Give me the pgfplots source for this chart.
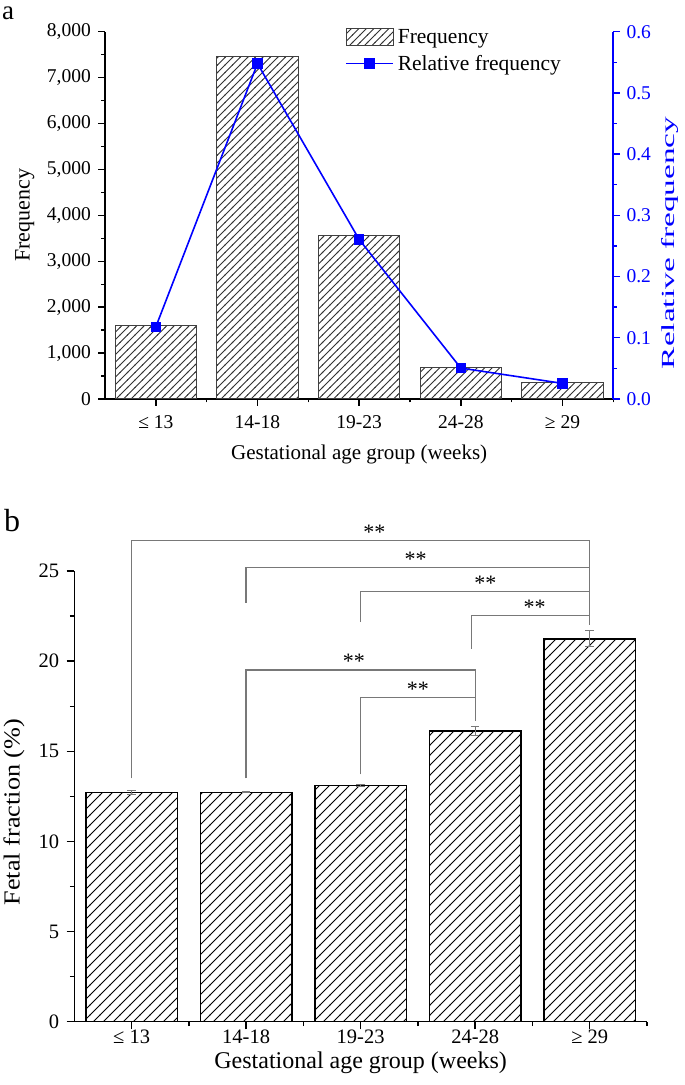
\documentclass[border=0pt]{standalone}
\usepackage{fontspec}
\setmainfont{Liberation Serif}
\usepackage{graphicx}
\usepackage{pgfplots}
\usepackage{pgfplotstable}
\pgfplotsset{compat=1.18}
\usetikzlibrary{patterns}

\pgfdeclarepatternformonly{hatchA}{\pgfqpoint{-1pt}{-1pt}}{\pgfqpoint{8.5pt}{8.5pt}}{\pgfqpoint{7.5pt}{7.5pt}}{%
  \pgfsetlinewidth{0.8pt}%
  \pgfpathmoveto{\pgfqpoint{-0.5pt}{-0.5pt}}%
  \pgfpathlineto{\pgfqpoint{8pt}{8pt}}%
  \pgfusepath{stroke}}
\pgfdeclarepatternformonly{hatchB}{\pgfqpoint{-1pt}{-1pt}}{\pgfqpoint{11pt}{11pt}}{\pgfqpoint{10pt}{10pt}}{%
  \pgfsetlinewidth{0.9pt}%
  \pgfpathmoveto{\pgfqpoint{-0.5pt}{-0.5pt}}%
  \pgfpathlineto{\pgfqpoint{10.5pt}{10.5pt}}%
  \pgfusepath{stroke}}

\definecolor{brk}{RGB}{120,120,120}

\pgfplotstableread{
x freq rel
0 1607 0.1178
1 7464 0.5479
2 3555 0.2606
3 695 0.0505
4 355 0.0255
}\freqtable

\pgfplotstableread{
x ff err
0 12.72 0.11
1 12.72 0.03
2 13.10 0.08
3 16.13 0.27
4 21.24 0.45
}\fftable

\begin{document}
\begin{tikzpicture}
\path[use as bounding box] (0pt,0pt) rectangle (685pt,1085pt);

% ---------- panel a ----------
\node[anchor=base west, font=\fontsize{27}{30}\selectfont, inner sep=0pt] at (2pt,1065pt) {a};

\begin{axis}[
  at={(105pt,686pt)}, anchor=south west, scale only axis,
  width=508.3pt, height=367.3pt,
  xmin=-0.5, xmax=4.5, ymin=0, ymax=8000,
  axis x line*=bottom, axis y line*=left,
  axis line style={line width=1.6pt},
  tick align=outside, major tick length=6.7pt, minor tick length=3.5pt,
  tick style={black, line width=1.4pt},
  xtick={0,1,2,3,4}, xticklabels={≤ 13,14-18,19-23,24-28,≥ 29},
  minor xtick={0.5,1.5,2.5,3.5,4.5},
  ytick={0,1000,2000,3000,4000,5000,6000,7000,8000},
  minor ytick={500,1500,2500,3500,4500,5500,6500,7500},
  scaled y ticks=false,
  /pgf/number format/assume math mode=true,
  /pgf/number format/1000 sep={,},
  yticklabel style={font=\fontsize{19.5}{23}\selectfont, xshift=-4pt},
  xticklabel style={font=\fontsize{19.5}{23}\selectfont, yshift=-6pt},
  xlabel={Gestational age group (weeks)},
  ylabel={Frequency},
  xlabel style={font=\fontsize{21}{25}\selectfont, at={(rel axis cs:0.5,-0.15)}, anchor=center},
  ylabel style={font=\fontsize{22}{26}\selectfont, at={(rel axis cs:-0.158,0.5)}, anchor=center},
  ybar, bar width=0.8, clip=false,
]
\addplot[draw=black!75, line width=1pt, pattern=hatchA, pattern color=black!80]
  table[x=x, y=freq]{\freqtable};
\end{axis}

\begin{axis}[
  at={(105pt,686pt)}, anchor=south west, scale only axis,
  width=508.3pt, height=367.3pt,
  xmin=-0.5, xmax=4.5, ymin=0, ymax=0.6,
  axis y line*=right, axis x line=none,
  axis line style={blue, line width=1.6pt},
  tick align=outside, major tick length=6.7pt, minor tick length=3.5pt,
  tick style={blue, line width=1.4pt},
  ytick={0,0.1,0.2,0.3,0.4,0.5,0.6},
  minor ytick={0.05,0.15,0.25,0.35,0.45,0.55},
  /pgf/number format/assume math mode=true,
  yticklabel style={blue, font=\fontsize{19.5}{23}\selectfont, xshift=3pt,
    /pgf/number format/.cd, fixed, fixed zerofill, precision=1},
  ylabel={\scalebox{1.8}[1]{Relative frequency}},
  ylabel style={blue, font=\fontsize{18.5}{22}\selectfont, at={(rel axis cs:1.1116,0.425)}, anchor=center},
  clip=false,
  legend style={at={(rel axis cs:0.472,1.010)}, anchor=north west, draw=none, fill=none,
    font=\fontsize{21.5}{25}\selectfont, inner sep=0pt, row sep=8pt,
    nodes={inner sep=1pt}},
  legend cell align=left,
]
\addlegendimage{legend image code/.code={%
  \draw[draw=black!75, line width=1pt, pattern=hatchA, pattern color=black!80] (0pt,-8.5pt) rectangle (47pt,8.5pt);
  \path (50pt,0pt);}}
\addlegendentry{Frequency}
\addplot[blue, line width=1.6pt, mark=square*, mark size=4.5pt,
  legend image code/.code={%
    \draw[blue, line width=1.8pt] (0pt,0pt) -- (47pt,0pt);
    \fill[blue] (19pt,-4.5pt) rectangle (28pt,4.5pt);
    \path (50pt,0pt);}]
  table[x=x, y=rel]{\freqtable};
\addlegendentry{Relative frequency}
\end{axis}

% ---------- panel b ----------
\node[anchor=base west, font=\fontsize{32}{36}\selectfont, inner sep=0pt] at (4pt,553pt) {b};

\begin{axis}[
  at={(74.3pt,63.3pt)}, anchor=south west, scale only axis,
  width=572.7pt, height=450.7pt,
  xmin=-0.5, xmax=4.5, ymin=0, ymax=25,
  axis x line*=bottom, axis y line*=left,
  axis line style={line width=1.5pt},
  tick align=outside, major tick length=7.7pt, minor tick length=4.3pt,
  tick style={black, line width=1.4pt},
  xtick={0,1,2,3,4}, xticklabels={≤ 13,14-18,19-23,24-28,≥ 29},
  minor xtick={0.5,1.5,2.5,3.5,4.5},
  ytick={0,5,10,15,20,25},
  minor ytick={2.5,7.5,12.5,17.5,22.5},
  /pgf/number format/assume math mode=true,
  yticklabel style={font=\fontsize{20.5}{24}\selectfont, xshift=-4pt},
  xticklabel style={font=\fontsize{20.5}{24}\selectfont, yshift=3.5pt},
  xlabel={Gestational age group (weeks)},
  ylabel={\scalebox{1.14}[1]{Fetal fraction (\%)}},
  xlabel style={font=\fontsize{24}{28}\selectfont, at={(rel axis cs:0.5,-0.0916)}, anchor=center, inner sep=0pt},
  ylabel style={font=\fontsize{23}{27}\selectfont, at={(rel axis cs:-0.1053,0.465)}, anchor=center},
  ybar, bar width=0.8, clip=false,
]
\addplot[draw=black, line width=1.5pt, pattern=hatchB, pattern color=black,
  error bars/.cd, y dir=both, y explicit,
  error bar style={brk, line width=1pt},
  error mark options={brk, line width=1pt, mark size=4.3pt, rotate=90}]
  table[x=x, y=ff, y error=err]{\fftable};

\draw[brk, line width=1.3pt] (axis cs:0,13.5) |- (axis cs:4,26.69) -- (axis cs:4,22.0);
\draw[brk, line width=1.3pt] (axis cs:1,23.24) |- (axis cs:4,25.20);
\draw[brk, line width=1.3pt] (axis cs:2,22.17) |- (axis cs:4,23.86);
\draw[brk, line width=1.3pt] (axis cs:2.97,20.68) |- (axis cs:4,22.52);
\draw[brk, line width=1.3pt] (axis cs:1,13.5) |- (axis cs:3,19.51) -- (axis cs:3,16.68);
\draw[brk, line width=1.3pt] (axis cs:2,13.72) |- (axis cs:3,17.99);

\begin{scope}[every node/.style={font=\fontsize{22}{26}\selectfont, anchor=base, inner sep=0pt, yshift=1pt}]
\node at (axis cs:2.12,26.69) {**};
\node at (axis cs:2.48,25.20) {**};
\node at (axis cs:3.09,23.86) {**};
\node at (axis cs:3.52,22.52) {**};
\node at (axis cs:1.94,19.51) {**};
\node at (axis cs:2.5,17.99) {**};
\end{scope}
\end{axis}
\end{tikzpicture}
\end{document}
